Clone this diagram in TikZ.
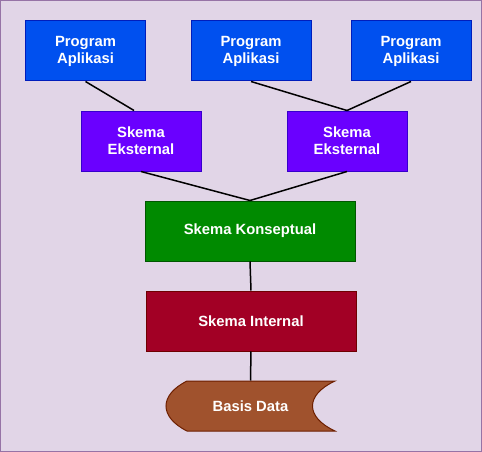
\documentclass[tikz,border=0pt]{standalone}
\usepackage{fontspec}
\setmainfont{Liberation Sans}
\usepackage{tikz}

\begin{document}
\begin{tikzpicture}[x=1pt, y=-1pt,
    box/.style={draw, line width=1pt, text=white, align=center,
      font=\fontsize{14.8}{17}\selectfont\bfseries, inner sep=0pt},
    progbox/.style={box, fill={rgb,255:red,0;green,80;blue,239},
      draw={rgb,255:red,0;green,29;blue,188},
      minimum width=120pt, minimum height=60pt},
    ekstbox/.style={box, fill={rgb,255:red,106;green,0;blue,255},
      draw={rgb,255:red,55;green,0;blue,204},
      minimum width=120pt, minimum height=60pt},
    link/.style={draw=black, line width=1.5pt}]
    % Drawing background part
    \useasboundingbox (0,0) rectangle (482,452);
    \draw [fill={rgb,255:red,225;green,213;blue,231},
      draw={rgb,255:red,150;green,115;blue,166}, line width=1pt]
      (0.5,0.5) rectangle (481.5,451.5);
    % Drawing application boxes
    \foreach \x/\n in {85.5/prog1, 251/prog2, 411/prog3}{
      \node [progbox] (\n) at (\x, 51) {Program\\Aplikasi};
    }
    \foreach \x/\n in {141/ekst1, 347/ekst2}{
      \node [ekstbox] (\n) at (\x, 141) {Skema\\Eksternal};
    }
    \node [box, fill={rgb,255:red,0;green,138;blue,0},
      draw={rgb,255:red,0;green,87;blue,0},
      minimum width=210pt, minimum height=60pt]
      (konsep) at (250, 231) {Skema Konseptual};
    \node [box, fill={rgb,255:red,162;green,0;blue,37},
      draw={rgb,255:red,111;green,0;blue,0},
      minimum width=210pt, minimum height=60pt]
      (internal) at (251, 321) {Skema Internal};
    % Drawing stored data shape
    \draw [fill={rgb,255:red,160;green,82;blue,45},
      draw={rgb,255:red,109;green,31;blue,0}, line width=1pt]
      (187,381) -- (335,381) .. controls (305,395) and (305,417) .. (335,431)
      -- (187,431) .. controls (159,417) and (159,395) .. (187,381) -- cycle;
    \node [box, draw=none, minimum width=168pt, minimum height=50pt]
      (basis) at (250.5, 406) {Basis Data};
    % Drawing connectors
    \coordinate (ekst1in) at ([xshift=-7pt]ekst1.north);
    \draw [link] (prog1.south) -- (ekst1in);
    \draw [link] (prog2.south) -- (ekst2.north);
    \draw [link] (prog3.south) -- (ekst2.north);
    \draw [link] (ekst1.south) -- (konsep.north);
    \draw [link] (ekst2.south) -- (konsep.north);
    \draw [link] (konsep.south) -- (internal.north);
    \draw [link] (internal.south) -- (basis.north);
  \end{tikzpicture}
\end{document}
